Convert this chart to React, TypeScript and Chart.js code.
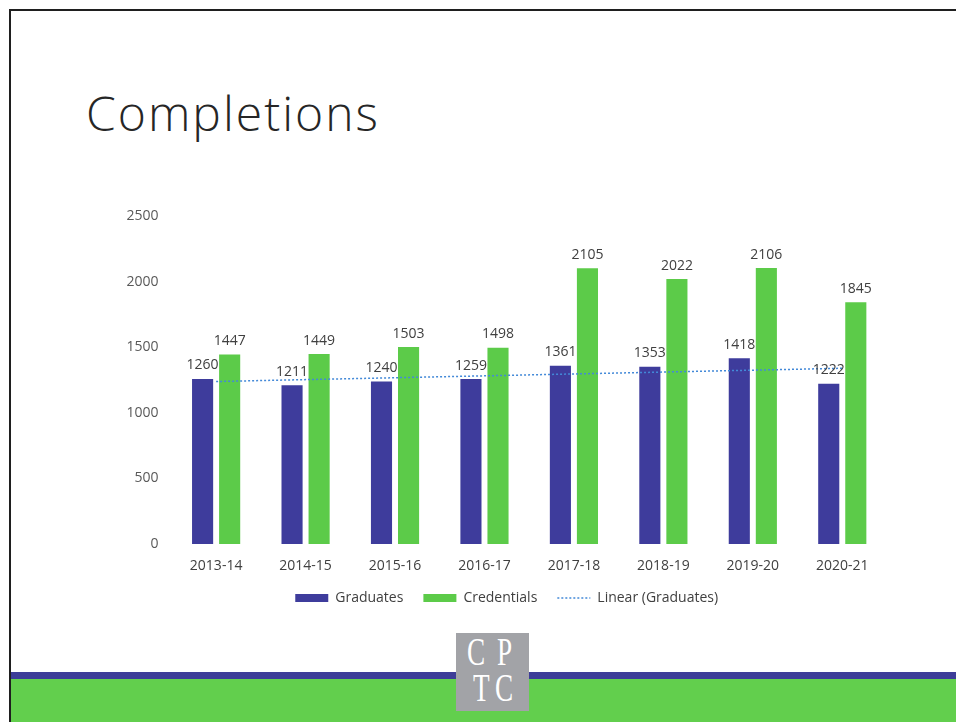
import React, { useEffect, useRef } from "react";
import { Chart, registerables } from "chart.js";

Chart.register(...registerables);

// ---- data ----
const categories = ["2013-14", "2014-15", "2015-16", "2016-17", "2017-18", "2018-19", "2019-20", "2020-21"];
const graduates = [1260, 1211, 1240, 1259, 1361, 1353, 1418, 1222];
const credentials = [1447, 1449, 1503, 1498, 2105, 2022, 2106, 1845];
// Linear (Graduates) trendline: values read at the first and last category
const trendStart = 1240;
const trendEnd = 1341;
const yMin = 0;
const yMax = 2500;
const yStep = 500;

const seriesNames = ["Graduates", "Credentials", "Linear (Graduates)"];
const titleText = "Completions";

const GRAD_COLOR = "#3e3c9c";
const CRED_COLOR = "#5ccb49";
const TREND_COLOR = "#4389d8";
const TEXT_COLOR = "#404040";
const FONT = "'Open Sans', 'Noto Sans', sans-serif";

const valueLabels = {
  id: "valueLabels",
  afterDatasetsDraw(chart: any) {
    const ctx = chart.ctx;
    ctx.save();
    ctx.fillStyle = TEXT_COLOR;
    ctx.font = `14px ${FONT}`;
    ctx.textAlign = "center";
    ctx.textBaseline = "alphabetic";
    [0, 1].forEach((di) => {
      const meta = chart.getDatasetMeta(di);
      const data = chart.data.datasets[di].data as number[];
      meta.data.forEach((el: any, i: number) => {
        ctx.fillText(String(data[i]), el.x, el.y - 9.5);
      });
    });
    ctx.restore();
  },
};

function CompletionsChart() {
  const ref = useRef<HTMLCanvasElement | null>(null);
  useEffect(() => {
    if (!ref.current) return;
    const last = categories.length - 1;
    const trend = categories.map((_, i) => (i === 0 ? trendStart : i === last ? trendEnd : null));
    const chart = new Chart(ref.current, {
      type: "bar",
      data: {
        labels: categories,
        datasets: [
          {
            label: seriesNames[0],
            data: graduates,
            backgroundColor: GRAD_COLOR,
            borderWidth: 0,
            categoryPercentage: 0.605,
            barPercentage: 0.78,
            pointStyle: "rect",
            order: 2,
          } as any,
          {
            label: seriesNames[1],
            data: credentials,
            backgroundColor: CRED_COLOR,
            borderWidth: 0,
            categoryPercentage: 0.605,
            barPercentage: 0.78,
            pointStyle: "rect",
            order: 2,
          } as any,
          {
            type: "line",
            label: seriesNames[2],
            data: trend,
            borderColor: TREND_COLOR,
            backgroundColor: TREND_COLOR,
            borderWidth: 1.5,
            borderDash: [2, 2],
            pointRadius: 0,
            pointHoverRadius: 0,
            pointStyle: "line",
            spanGaps: true,
            fill: false,
            order: 0,
          } as any,
        ],
      },
      options: {
        animation: false,
        responsive: false,
        maintainAspectRatio: false,
        layout: { padding: { top: 13, right: 13, left: 26.4, bottom: 0 } },
        scales: {
          x: {
            grid: { display: false, drawTicks: false },
            border: { display: false },
            ticks: { color: TEXT_COLOR, font: { family: FONT, size: 14 }, padding: 14 },
            afterFit: (s: any) => {
              s.height = 27;
            },
          },
          y: {
            min: yMin,
            max: yMax,
            grid: { display: false, drawTicks: false },
            border: { display: false },
            ticks: {
              stepSize: yStep,
              color: "#595959",
              font: { family: FONT, size: 14 },
              padding: 13,
              callback: (v: any) => String(v),
            },
            afterFit: (s: any) => {
              s.width = 45;
            },
          },
        },
        plugins: {
          legend: {
            position: "bottom",
            labels: {
              usePointStyle: true,
              pointStyleWidth: 33,
              boxHeight: 8,
              padding: 20,
              color: TEXT_COLOR,
              font: { family: FONT, size: 14 },
              generateLabels: (c: any) => {
                const items = (Chart as any).defaults.plugins.legend.labels.generateLabels(c);
                items.forEach((it: any) => {
                  if (it.datasetIndex === 2) {
                    it.pointStyle = "line";
                    it.lineDash = [2, 2];
                    it.lineWidth = 1.5;
                    it.strokeStyle = TREND_COLOR;
                  } else {
                    it.pointStyle = "rect";
                    it.lineWidth = 0;
                  }
                });
                return items.sort((a: any, b: any) => a.datasetIndex - b.datasetIndex);
              },
            },
          },
          tooltip: { enabled: false },
          title: { display: false },
        },
      },
      plugins: [valueLabels],
    } as any);
    return () => chart.destroy();
  }, []);
  return (
    <canvas
      ref={ref}
      width={800}
      height={420}
      style={{ position: "absolute", left: 100, top: 195, width: 800, height: 420 }}
    />
  );
}

const logoLetter = (ch: string, left: number, top: number) => (
  <div
    key={ch + left + top}
    style={{
      position: "absolute",
      left,
      top,
      fontFamily: "'Liberation Serif', 'DejaVu Serif', serif",
      fontSize: 40,
      lineHeight: "40px",
      color: "#ffffff",
      transform: "scaleX(0.68)",
      transformOrigin: "left top",
    }}
  >
    {ch}
  </div>
);

export default function App() {
  useEffect(() => {
    document.body.style.margin = "0";
    document.body.style.background = "#ffffff";
  }, []);
  return (
    <div
      style={{
        position: "fixed",
        left: 0,
        top: 0,
        width: 956,
        height: 722,
        overflow: "hidden",
        background: "#ffffff",
      }}
    >
      {/* slide frame */}
      <div style={{ position: "absolute", left: 10, top: 9, width: 960, height: 2, background: "#1f1f1f" }} />
      <div style={{ position: "absolute", left: 9, top: 9, width: 2, height: 720, background: "#1f1f1f" }} />
      {/* title */}
      <div
        style={{
          position: "absolute",
          left: 86,
          top: 89,
          fontFamily: FONT,
          fontWeight: 300,
          fontSize: 48,
          lineHeight: "48px",
          letterSpacing: "2px",
          color: "#262626",
          whiteSpace: "nowrap",
        }}
      >
        {titleText}
      </div>
      <CompletionsChart />
      {/* footer bands */}
      <div style={{ position: "absolute", left: 11, top: 672, width: 950, height: 7, background: "#3d3d98" }} />
      <div style={{ position: "absolute", left: 11, top: 679, width: 950, height: 43, background: "#62cf4d" }} />
      {/* logo */}
      <div style={{ position: "absolute", left: 456, top: 633, width: 73, height: 78, background: "#a2a3a7" }} />
      {logoLetter("C", 467, 632)}
      {logoLetter("P", 497, 632)}
      {logoLetter("T", 473, 668)}
      {logoLetter("C", 495, 668)}
    </div>
  );
}
